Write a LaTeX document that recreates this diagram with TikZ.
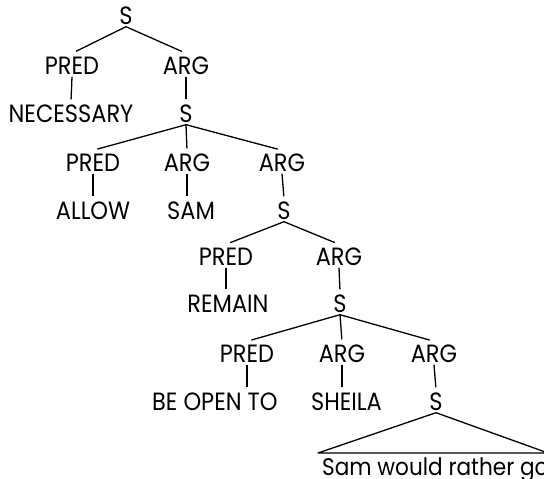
\documentclass[tikz,border=0pt]{standalone}
\usepackage{fontspec}
\setmainfont{Poppins}[FakeStretch=0.9]
\begin{document}
\begin{tikzpicture}[x=1pt,y=-1pt,
  lbl/.style={inner xsep=0pt,inner ysep=2.5pt,text height=18pt,text depth=0pt,
    font=\fontsize{25}{25}\selectfont},
  br/.style={line width=1.3pt,shorten >=4.5pt},
  vt/.style={line width=1.3pt,shorten >=2pt}]
\useasboundingbox (0,0) rectangle (544,479);

% top clause
\node[lbl] (s1) at (126,15) {S};
\node[lbl] (pred1) at (72,65) {PRED};
\node[lbl] (arg1) at (186,65) {ARG};
\node[lbl] (nec) at (71,113) {NECESSARY};
\node[lbl] (s2) at (186,113) {S};

% allow clause
\node[lbl] (pred2) at (93,162) {PRED};
\node[lbl] (arg2) at (187,162) {ARG};
\node[lbl] (arg3) at (282,162) {ARG};
\node[lbl] (allow) at (93,210) {ALLOW};
\node[lbl] (sam) at (191,210) {SAM};
\node[lbl] (s3) at (284,210) {S};

% remain clause
\node[lbl] (pred3) at (226,256) {PRED};
\node[lbl] (arg4) at (339,256) {ARG};
\node[lbl] (remain) at (228,303) {REMAIN};
\node[lbl] (s4) at (340,303) {S};

% be-open-to clause
\node[lbl] (pred4) at (247,353) {PRED};
\node[lbl] (arg5) at (342,353) {ARG};
\node[lbl] (arg6) at (434,353) {ARG};
\node[lbl,anchor=west] (open) at (152,401) {BE OPEN TO};
\node[lbl,anchor=east] (sheila) at (382,401) {SHEILA};
\node[lbl] (s5) at (436,401) {S};

% embedded sentence under a triangle
\coordinate (tl) at (318,453);
\coordinate (tr) at (548,453);
\node[lbl,anchor=base west,text height=,inner ysep=0pt,
  font=\fontsize{24}{24}\selectfont] (sam2) at (322,475) {Sam would rather go};

\draw[br] (s1.south) -- (pred1.north);
\draw[br] (s1.south) -- (arg1.north);
\draw[vt] (pred1.south) -- (nec.north);
\draw[vt] (arg1.south) -- (s2.north);

\draw[br] (s2.south) -- (pred2.north);
\draw[vt] (s2.south) -- (arg2.north);
\draw[br] (s2.south) -- (arg3.north);
\draw[vt] (pred2.south) -- (allow.north);
\draw[vt] (arg2.south) -- (sam.north -| arg2.south);
\draw[vt] (arg3.south) -- (s3.north);

\draw[br] (s3.south) -- (pred3.north);
\draw[br] (s3.south) -- (arg4.north);
\draw[vt] (pred3.south) -- (remain.north -| pred3.south);
\draw[vt] (arg4.south) -- (s4.north);

\draw[br] (s4.south) -- (pred4.north);
\draw[vt] (s4.south) -- (arg5.north);
\draw[br] (s4.south) -- (arg6.north);
\draw[vt] (pred4.south) -- (open.north -| pred4.south);
\draw[vt] (arg5.south) -- (sheila.north -| arg5.south);
\draw[vt] (arg6.south) -- (s5.north);

\draw[line width=1.3pt,line join=round] (tl) -- (s5.south) -- (tr) -- cycle;
\end{tikzpicture}
\end{document}
